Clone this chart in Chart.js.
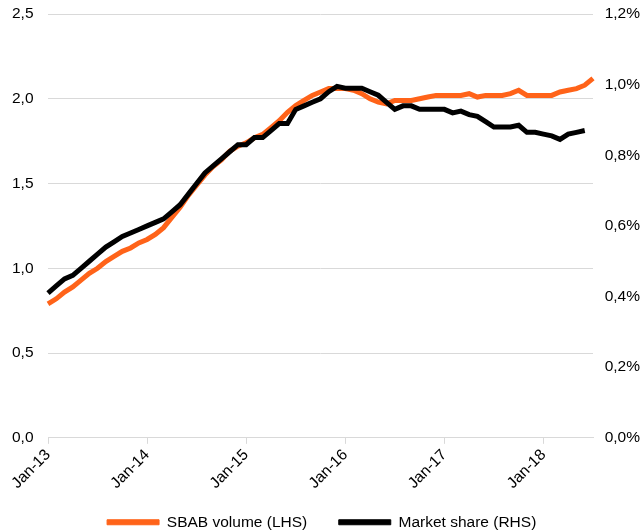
<!DOCTYPE html>
<html lang="en">
<head>
<meta charset="UTF-8" />
<title>sbab volume vs market share</title>
<script src="https://cdn.jsdelivr.net/npm/chart.js"></script>
<style>
  body, html {
    margin: 0; padding: 0;
    background: #fff;
  }
  #wrap {
    width: 643px;
    height: 532px;
    position: relative;
  }
</style>
</head>
<body>
<div id="wrap"><canvas id="chart"></canvas></div>

<script>
  // months Jan-13 .. Jul-18
  const monthNames = ['Jan','Feb','Mar','Apr','May','Jun','Jul','Aug','Sep','Oct','Nov','Dec'];
  const years = ['13','14','15','16','17','18'];
  const lastMonthOfLastYear = 7;

  const labels = [];
  years.forEach((y, yi) => {
    const n = yi === years.length - 1 ? lastMonthOfLastYear : 12;
    for (let m = 0; m < n; m++) labels.push(monthNames[m] + '-' + y);
  });

  // SBAB volume, left axis
  const sbabVolume = [
    0.79, 0.82, 0.86, 0.89, 0.93, 0.97, 1.00, 1.04, 1.07, 1.10, 1.12, 1.15,
    1.17, 1.20, 1.24, 1.30, 1.36, 1.43, 1.49, 1.55, 1.60, 1.64, 1.69, 1.72,
    1.74, 1.77, 1.79, 1.83, 1.87, 1.92, 1.96, 1.99, 2.02, 2.04, 2.06, 2.06,
    2.06, 2.05, 2.03, 2.00, 1.98, 1.97, 1.99, 1.99, 1.99, 2.00, 2.01, 2.02,
    2.02, 2.02, 2.02, 2.03, 2.01, 2.02, 2.02, 2.02, 2.03, 2.05, 2.02, 2.02,
    2.02, 2.02, 2.04, 2.05, 2.06, 2.08, 2.12
  ];

  // market share in %, right axis
  const marketShare = [
    0.41, 0.43, 0.45, 0.46, 0.48, 0.50, 0.52, 0.54, 0.555, 0.57, 0.58, 0.59,
    0.60, 0.61, 0.62, 0.64, 0.66, 0.69, 0.72, 0.75, 0.77, 0.79, 0.81, 0.83,
    0.83, 0.85, 0.85, 0.87, 0.89, 0.89, 0.93, 0.94, 0.95, 0.96, 0.98, 0.995,
    0.99, 0.99, 0.99, 0.98, 0.97, 0.95, 0.93, 0.94, 0.94, 0.93, 0.93, 0.93,
    0.93, 0.92, 0.925, 0.915, 0.91, 0.895, 0.88, 0.88, 0.88, 0.885, 0.865, 0.865,
    0.86, 0.855, 0.845, 0.86, 0.865, 0.87, null
  ];

  const leftTicks = [0, 0.5, 1.0, 1.5, 2.0, 2.5];
  const rightTicks = [0, 0.2, 0.4, 0.6, 0.8, 1.0, 1.2];

  const orange = '#ff6319';
  const gridGrey = '#d9d9d9';
  const font = { family: '"Liberation Sans", Arial, sans-serif', size: 15.5 };

  const comma = (v, d) => v.toFixed(d).replace('.', ',');

  new Chart(document.getElementById('chart'), {
    type: 'line',
    data: {
      labels: labels,
      datasets: [
        {
          label: 'SBAB volume (LHS)',
          data: sbabVolume,
          yAxisID: 'yL',
          borderColor: orange,
          backgroundColor: orange,
          borderWidth: 5,
          pointRadius: 0,
          tension: 0,
          order: 1
        },
        {
          label: 'Market share (RHS)',
          data: marketShare,
          yAxisID: 'yR',
          borderColor: '#000',
          backgroundColor: '#000',
          borderWidth: 5,
          pointRadius: 0,
          tension: 0,
          order: 0
        }
      ]
    },
    options: {
      responsive: true,
      maintainAspectRatio: false,
      animation: false,
      layout: { padding: { top: 14, left: 12, right: 3, bottom: -8 } },
      plugins: {
        tooltip: { enabled: false },
        legend: {
          position: 'bottom',
          labels: {
            boxWidth: 52,
            boxHeight: 5,
            color: '#000',
            font: font,
            padding: 10,
            sort: (a, b) => a.datasetIndex - b.datasetIndex,
            // thin outline, a bit more room between the entries
            generateLabels: chart => {
              const items = Chart.defaults.plugins.legend.labels.generateLabels(chart);
              items.forEach(it => {
                it.lineWidth = 1;
                it.text += it.datasetIndex === 0 ? '     ' : '  ';
              });
              return items;
            }
          }
        }
      },
      scales: {
        x: {
          offset: false,
          afterFit: s => { s.height += 10; },
          grid: {
            drawOnChartArea: false,
            tickLength: 6,
            color: c => (c.index % 12 === 0 ? gridGrey : 'transparent')
          },
          border: { display: true, color: gridGrey, width: 1 },
          ticks: {
            autoSkip: false,
            maxRotation: 45,
            minRotation: 45,
            color: '#000',
            font: font,
            padding: 2,
            callback: function (val, i) {
              const l = labels[i];
              return l.startsWith('Jan') ? l : '';
            }
          }
        },
        yL: {
          position: 'left',
          min: 0,
          max: 2.5,
          afterBuildTicks: s => { s.ticks = leftTicks.map(v => ({ value: v })); },
          afterFit: s => { s.width = 36; },
          grid: { color: gridGrey, drawTicks: false, lineWidth: 1 },
          border: { display: false },
          ticks: {
            color: '#000',
            font: font,
            padding: 2,
            crossAlign: 'far',
            callback: v => comma(v, 1)
          }
        },
        yR: {
          position: 'right',
          min: 0,
          max: 1.2,
          afterBuildTicks: s => { s.ticks = rightTicks.map(v => ({ value: v })); },
          afterFit: s => { s.width = 47; },
          grid: { drawOnChartArea: false, drawTicks: false },
          border: { display: false },
          ticks: {
            color: '#000',
            font: font,
            padding: 2,
            crossAlign: 'far',
            callback: v => comma(v, 1) + '%'
          }
        }
      }
    }
  });
</script>
</body>
</html>
